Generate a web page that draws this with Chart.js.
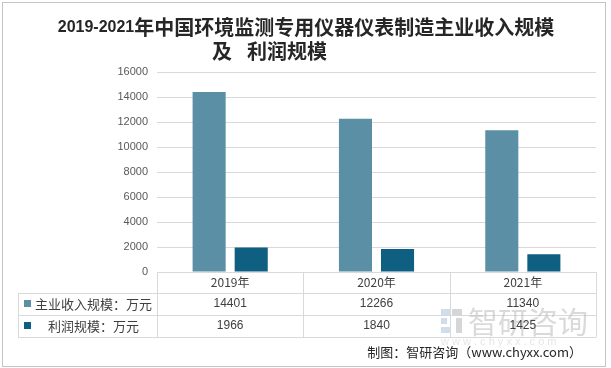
<!DOCTYPE html>
<html>
<head>
<meta charset="utf-8">
<script src="https://cdn.jsdelivr.net/npm/chart.js@4.4.1/dist/chart.umd.min.js"></script>
<style>
  body { margin: 0; background: #fff; }
  #chart { display: block; }
</style>
</head>
<body>
<canvas id="chart" width="611" height="368"></canvas>
<script>
// Chart data
const years = ['2019年', '2020年', '2021年'];
const revenue = [14401, 12266, 11340];
const profit = [1966, 1840, 1425];
const seriesNames = ['主业收入规模：万元', '利润规模：万元'];
const seriesColors = ['#5b8fa5', '#0e5f81'];
const yMax = 16000;
const yStep = 2000;

const titleYears = '2019-2021';
const titleLine1 = '年中国环境监测专用仪器仪表制造主业收入规模';
const titleLine2a = '及';
const titleLine2b = '利润规模';
const footerText = '制图：智研咨询（www.chyxx.com）';

const cjk = "'Noto Sans CJK SC', 'Liberation Sans', sans-serif";

// Draws title, data table, watermark and footer around the chart
const decorPlugin = {
    id: 'decor',
    afterDraw(chart) {
        const ctx = chart.ctx;
        const area = chart.chartArea;
        const x = chart.scales.x;
        ctx.save();

        // outer frame
        ctx.strokeStyle = '#c4c4c4';
        ctx.lineWidth = 1;
        ctx.strokeRect(2.5, 2.5, 603, 364);

        // title (digits are narrower than the CJK part)
        ctx.fillStyle = '#262626';
        ctx.textBaseline = 'middle';
        ctx.textAlign = 'left';
        ctx.font = "bold 16px 'Liberation Sans', sans-serif";
        const wYears = ctx.measureText(titleYears).width;
        ctx.font = 'bold 20px ' + cjk;
        const wRest = ctx.measureText(titleLine1).width;
        let tx = 306 - (wYears + wRest) / 2;
        ctx.font = "bold 16px 'Liberation Sans', sans-serif";
        ctx.fillText(titleYears, tx, 28);
        ctx.font = 'bold 20px ' + cjk;
        ctx.fillText(titleLine1, tx + wYears, 27);
        ctx.fillText(titleLine2a, 212, 51);
        ctx.fillText(titleLine2b, 247, 51);

        // table grid
        const rowY = [area.bottom, 293, 315, 337];
        const tableLeft = 18;
        const colW = (area.right - area.left) / years.length;
        ctx.strokeStyle = '#d9d9d9';
        ctx.beginPath();
        ctx.moveTo(area.left, rowY[0] + 0.5);
        ctx.lineTo(area.right, rowY[0] + 0.5);
        for (let i = 1; i < rowY.length; i++) {
            ctx.moveTo(tableLeft, rowY[i] + 0.5);
            ctx.lineTo(area.right, rowY[i] + 0.5);
        }
        ctx.moveTo(tableLeft + 0.5, rowY[1]);
        ctx.lineTo(tableLeft + 0.5, rowY[3]);
        for (let i = 0; i <= years.length; i++) {
            const cx = Math.round(area.left + i * colW) + 0.5;
            ctx.moveTo(cx, rowY[0]);
            ctx.lineTo(cx, rowY[3]);
        }
        ctx.stroke();

        // watermark
        ctx.globalAlpha = 0.55;
        ctx.fillStyle = '#a9c3dc';
        ctx.fillRect(441, 309, 9, 6);
        ctx.fillRect(441, 318, 6, 6);
        ctx.fillRect(441, 327, 9, 6);
        ctx.fillStyle = '#b5b5b5';
        ctx.fillRect(452, 309, 10, 6);
        ctx.fillRect(456, 318, 6, 15);
        ctx.font = '30px ' + cjk;
        ctx.fillStyle = '#bcbcbc';
        ctx.fillText('智研咨询', 468, 322);
        ctx.font = "11px 'Liberation Sans', sans-serif";
        ctx.fillStyle = '#cfcfcf';
        ctx.fillText('w w w . c h y x x . c o m', 441, 342);
        ctx.globalAlpha = 1;

        // header row and values
        ctx.fillStyle = '#404040';
        ctx.textAlign = 'center';
        const rows = [revenue, profit];
        years.forEach((yr, i) => {
            const cx = x.getPixelForValue(i);
            ctx.font = '12px ' + cjk;
            ctx.fillText(yr, cx, 282);
            ctx.font = "12px 'Liberation Sans', sans-serif";
            ctx.fillText(String(rows[0][i]), cx, 304);
            ctx.fillText(String(rows[1][i]), cx, 326);
        });

        // row labels with colour keys
        ctx.textAlign = 'left';
        ctx.font = '13px ' + cjk;
        ctx.fillStyle = seriesColors[0];
        ctx.fillRect(24, 300, 7, 7);
        ctx.fillStyle = seriesColors[1];
        ctx.fillRect(24, 322, 7, 7);
        ctx.fillStyle = '#404040';
        ctx.fillText(seriesNames[0], 35, 304);
        ctx.fillText(seriesNames[1], 48, 326);

        // footer
        ctx.textAlign = 'right';
        ctx.font = '13px ' + cjk;
        ctx.fillStyle = '#262626';
        ctx.fillText(footerText, 582, 352);

        ctx.restore();
    }
};

new Chart(document.getElementById('chart'), {
    type: 'bar',
    data: {
        labels: years,
        datasets: [
            { label: seriesNames[0], data: revenue, backgroundColor: seriesColors[0] },
            { label: seriesNames[1], data: profit, backgroundColor: seriesColors[1] }
        ]
    },
    options: {
        responsive: false,
        animation: false,
        devicePixelRatio: 1,
        layout: { padding: { left: 97, right: 15, top: 72, bottom: 96 } },
        datasets: { bar: { categoryPercentage: 0.575, barPercentage: 0.786 } },
        plugins: {
            legend: { display: false },
            title: { display: false },
            tooltip: { enabled: false }
        },
        scales: {
            x: {
                ticks: { display: false },
                grid: { display: false, drawTicks: false },
                border: { display: false }
            },
            y: {
                min: 0,
                max: yMax,
                afterFit(scale) { scale.width = 60; },
                ticks: {
                    stepSize: yStep,
                    padding: 9,
                    color: '#595959',
                    font: { family: "'Liberation Sans', sans-serif", size: 11 },
                    callback: (v) => String(v)
                },
                grid: { color: '#d9d9d9', drawTicks: false },
                border: { display: false }
            }
        }
    },
    plugins: [decorPlugin]
});
</script>
</body>
</html>
